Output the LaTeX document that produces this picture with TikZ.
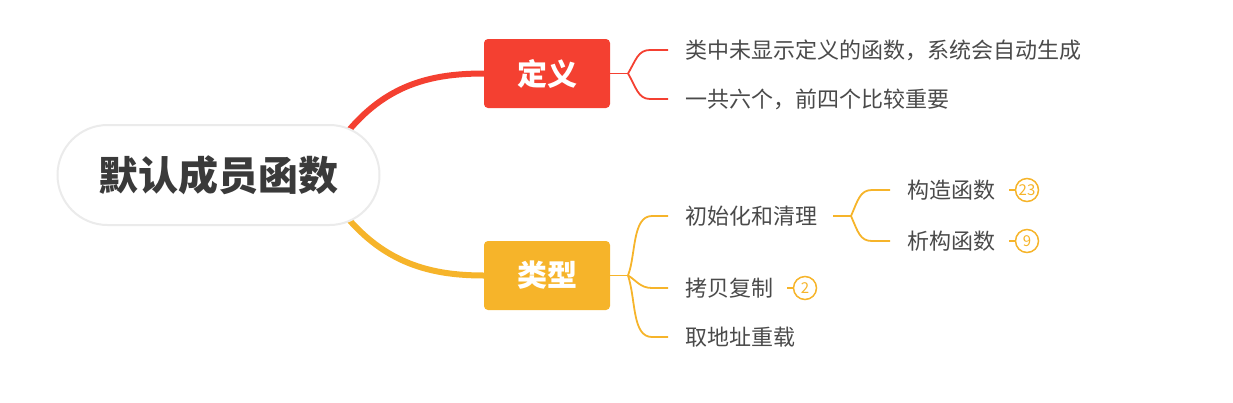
\documentclass[tikz,border=0pt]{standalone}
\usepackage{fontspec}
\setmainfont{Noto Sans CJK SC}
\definecolor{cred}{HTML}{F44031}
\definecolor{cyel}{HTML}{F6B42A}
\definecolor{ctxt}{HTML}{4A4A4A}
\definecolor{cdark}{HTML}{3A3A3A}
\begin{document}
\begin{tikzpicture}[x=1pt,y=-1pt,
  root/.style={draw=black!8,line width=2pt,fill=white,rounded corners=50pt,minimum width=322pt,minimum height=100pt,font=\fontsize{40}{42}\selectfont\bfseries,text=cdark},
  topic/.style={rounded corners=4pt,minimum width=126pt,minimum height=69pt,font=\fontsize{30}{32}\selectfont\bfseries,text=white},
  leaf/.style={anchor=west,inner sep=0pt,font=\fontsize{22}{24}\selectfont,text=ctxt},
  badge/.style={circle,draw=cyel,line width=1.5pt,minimum size=23pt,inner sep=0pt,font=\fontsize{15}{15}\selectfont,text=cyel},
  thick branch/.style={line width=6pt},
  thin branch/.style={line width=1.8pt}]
\useasboundingbox (0,0) rectangle (1233,402);
% main curves
\coordinate (r0) at (345,135);
\coordinate (y0) at (345,215);
\node[topic,fill=cred] (def) at (547,73.5) {定义};
\node[topic,fill=cyel] (typ) at (547,275.5) {类型};
\draw[cred,thick branch] (r0) .. controls (385,85) and (430,73.5) .. (def.west);
\draw[cyel,thick branch] (y0) .. controls (385,263) and (430,275.5) .. (typ.west);
\node[root] (root) at (218.5,175) {默认成员函数};
% definition leaves
\node[leaf] (d1) at (685,50) {类中未显示定义的函数，系统会自动生成};
\node[leaf] (d2) at (685,99) {一共六个，前四个比较重要};
\coordinate (dj) at (628,73.5);
\draw[cred,thin branch] (def.east) -- (dj);
\draw[cred,thin branch] (dj) .. controls (636,60) and (638,50) .. (650,50) -- (668,50);
\draw[cred,thin branch] (dj) .. controls (636,87) and (638,99) .. (650,99) -- (668,99);
% type leaves
\node[leaf] (t1) at (685,216) {初始化和清理};
\node[leaf] (t2) at (685,288) {拷贝复制};
\node[leaf] (t3) at (685,337) {取地址重载};
\coordinate (tj) at (628,275.5);
\draw[cyel,thin branch] (typ.east) -- (tj);
\draw[cyel,thin branch] (tj) .. controls (636,255) and (632,216) .. (652,216) -- (668,216);
\draw[cyel,thin branch] (tj) .. controls (636,280) and (640,288) .. (652,288) -- (668,288);
\draw[cyel,thin branch] (tj) .. controls (636,300) and (632,337) .. (652,337) -- (668,337);
% sub leaves
\node[leaf] (s1) at (907,190) {构造函数};
\node[leaf] (s2) at (907,241) {析构函数};
\coordinate (sj) at (851,216);
\draw[cyel,thin branch] (833,216) -- (sj);
\draw[cyel,thin branch] (sj) .. controls (858,200) and (860,190) .. (872,190) -- (890,190);
\draw[cyel,thin branch] (sj) .. controls (858,232) and (860,241) .. (872,241) -- (890,241);
% badges
\node[badge] (b1) at (1027,190) {23};
\node[badge] (b2) at (1027,241) {9};
\node[badge] (b3) at (805,288) {2};
\draw[cyel,thin branch] (1009,190) -- (b1.west);
\draw[cyel,thin branch] (1009,241) -- (b2.west);
\draw[cyel,thin branch] (787,288) -- (b3.west);
\end{tikzpicture}
\end{document}
